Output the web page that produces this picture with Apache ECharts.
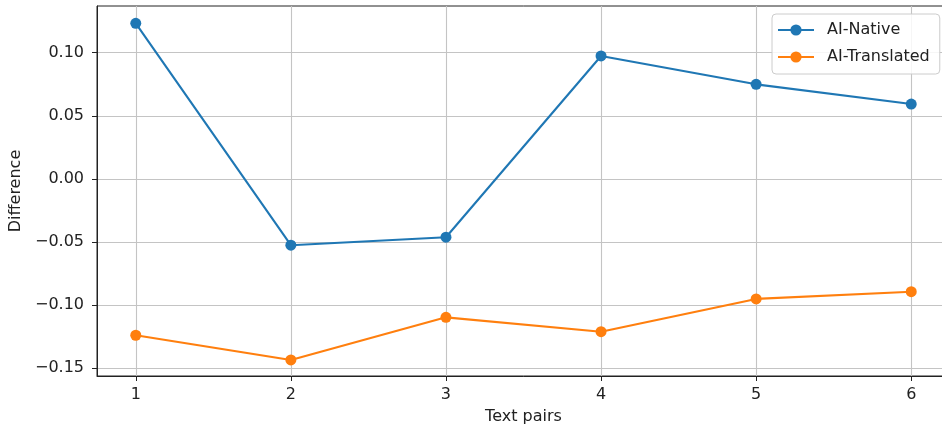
<!DOCTYPE html>
<html>
<head>
<meta charset="utf-8">
<script src="https://cdn.jsdelivr.net/npm/echarts@6/dist/echarts.min.js"></script>
<style>html,body{margin:0;padding:0;background:#fff;overflow:hidden}#c{width:960px;height:432px}</style>
</head>
<body>
<div id="c"></div>
<script>
const categories = [1, 2, 3, 4, 5, 6];
const aiNative = [0.1233, -0.0526, -0.0463, 0.0974, 0.0749, 0.0593];
const aiTranslated = [-0.1240, -0.1436, -0.1098, -0.1212, -0.0952, -0.0895];
const yTicks = [-0.15, -0.10, -0.05, 0.00, 0.05, 0.10];
const xTicks = [1, 2, 3, 4, 5, 6];

const FONT = 'DejaVu Sans';
const chart = echarts.init(document.getElementById('c'), null, {renderer: 'canvas'});
const pair = arr => categories.map((c, i) => [c, arr[i]]);
const fmtY = v => v.toFixed(2).replace('-', '\u2212');

chart.setOption({
  animation: false,
  backgroundColor: '#fff',
  grid: {left: 97, top: 6, width: 853, height: 370, show: true, borderColor: '#222', borderWidth: 1, containLabel: false},
  legend: {
    orient: 'vertical', left: 772, top: 14,
    padding: [8, 10, 9, 5], itemGap: 11, itemWidth: 36, itemHeight: 14,
    borderColor: '#cccccc', borderWidth: 1, borderRadius: 4,
    backgroundColor: 'rgba(255,255,255,0.85)',
    textStyle: {fontFamily: FONT, fontSize: 16, color: '#222', padding: [0, 0, 0, 8]},
    data: ['AI-Native', 'AI-Translated']
  },
  xAxis: {
    type: 'value', min: 0.75, max: 6.25,
    name: 'Text pairs', nameLocation: 'middle', nameGap: 33,
    nameTextStyle: {fontFamily: FONT, fontSize: 16, color: '#222'},
    axisLine: {show: true, onZero: false, lineStyle: {color: '#222', width: 1}},
    axisTick: {show: true, length: 5, lineStyle: {color: '#222'}, customValues: xTicks},
    axisLabel: {fontFamily: FONT, fontSize: 16, color: '#222', margin: 11, customValues: xTicks, formatter: v => String(v)},
    splitLine: {show: true, lineStyle: {color: '#c4c4c4', width: 1.1}}
  },
  yAxis: {
    type: 'value', min: -0.1563, max: 0.137,
    name: 'Difference', nameLocation: 'middle', nameGap: 69,
    nameTextStyle: {fontFamily: FONT, fontSize: 16, color: '#222'},
    axisLine: {show: true, onZero: false, lineStyle: {color: '#222', width: 1}},
    axisTick: {show: true, length: 5, lineStyle: {color: '#222'}, customValues: yTicks},
    axisLabel: {fontFamily: FONT, fontSize: 16, color: '#222', margin: 13, customValues: yTicks, formatter: fmtY},
    splitLine: {show: true, lineStyle: {color: '#c4c4c4', width: 1.1}}
  },
  series: [
    {name: 'AI-Native', type: 'line', data: pair(aiNative), symbol: 'circle', symbolSize: 11,
     itemStyle: {color: '#1f77b4'}, lineStyle: {color: '#1f77b4', width: 2.1}},
    {name: 'AI-Translated', type: 'line', data: pair(aiTranslated), symbol: 'circle', symbolSize: 11,
     itemStyle: {color: '#ff7f0e'}, lineStyle: {color: '#ff7f0e', width: 2.1}}
  ]
});
</script>
</body>
</html>
